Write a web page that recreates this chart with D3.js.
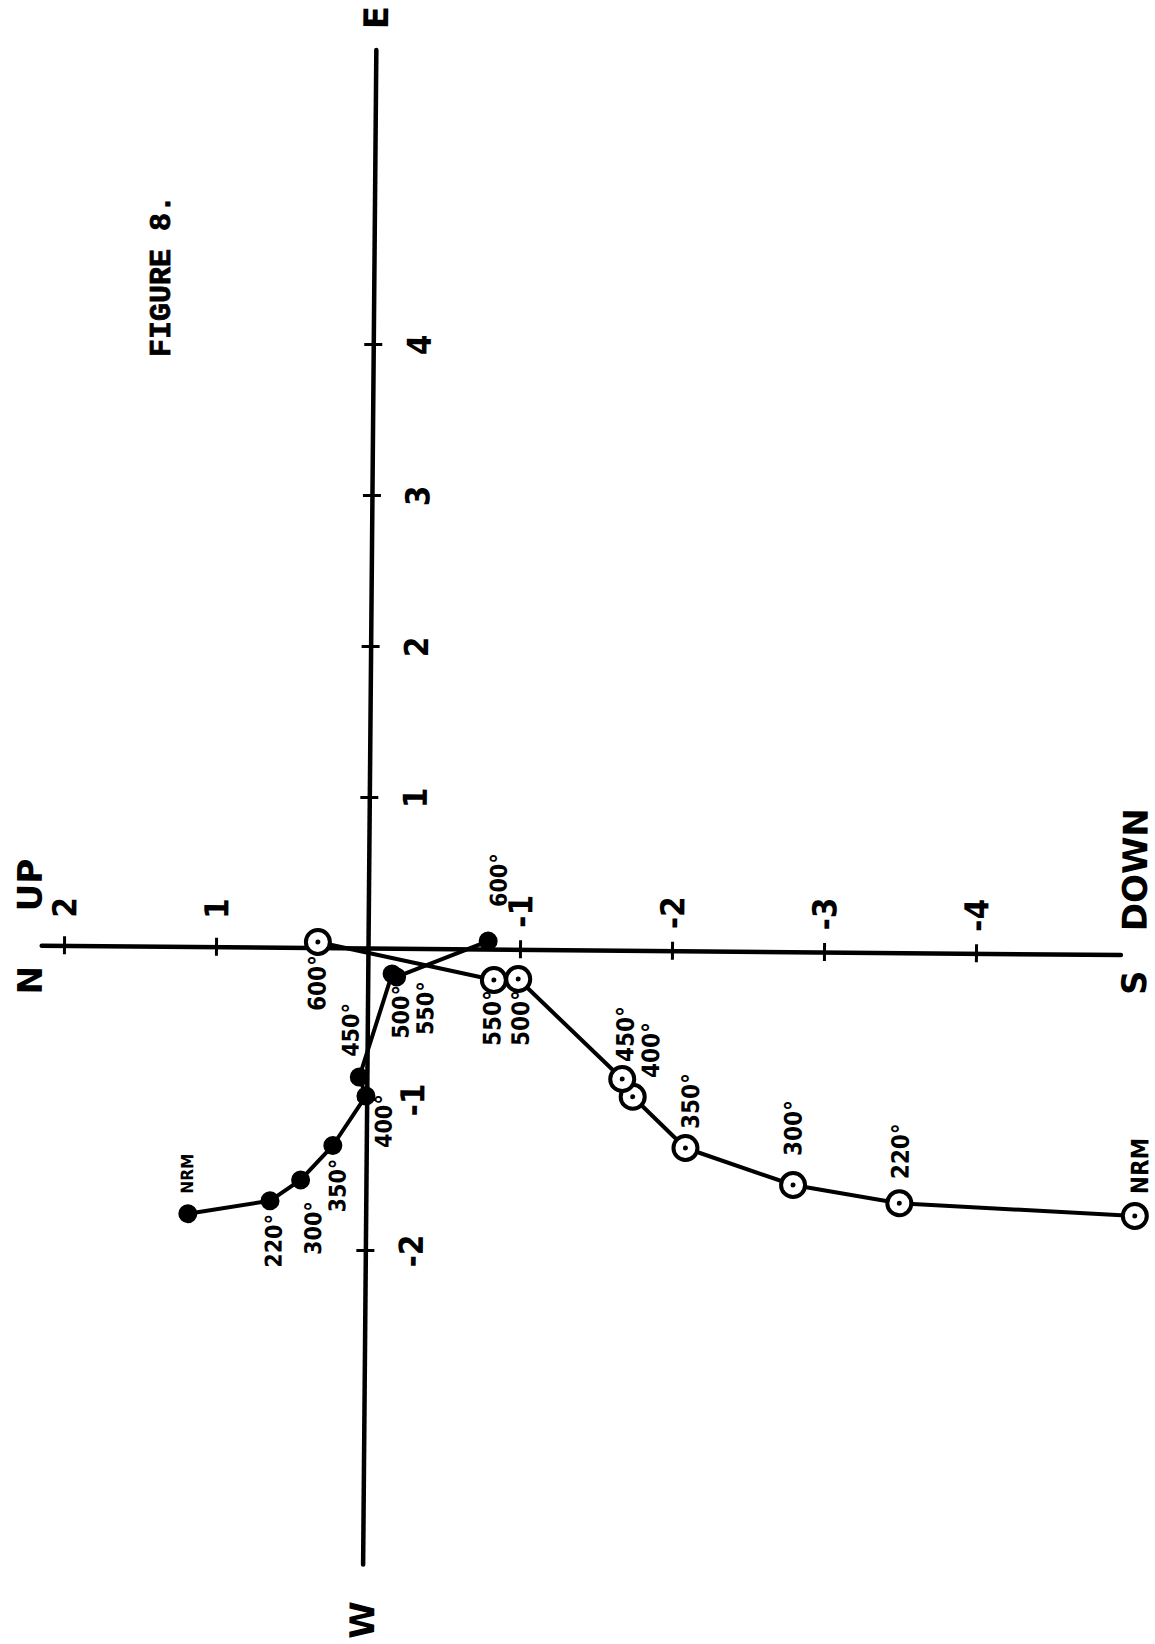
<!DOCTYPE html>
<html>
<head>
<meta charset="utf-8">
<script src="https://cdn.jsdelivr.net/npm/d3@7"></script>
<style>
  body { margin: 0; background: #fff; }
  svg { display: block; }
  text { font-weight: bold; fill: #000; }
</style>
</head>
<body>
<svg id="chart" width="1155" height="1644"></svg>
<script>
// demagnetisation steps
const steps = ["NRM", "220°", "300°", "350°", "400°", "450°", "500°", "550°", "600°"];
// horizontal projection (solid): N and E components
const horizN = [1.17, 0.63, 0.43, 0.22, 0.005, 0.05, -0.16, -0.19, -0.79];
const horizE = [-1.77, -1.68, -1.54, -1.31, -0.98, -0.855, -0.17, -0.19, 0.053];
// vertical projection (open): Up and E components
const vertUp = [-5.06, -3.51, -2.81, -2.10, -1.75, -1.68, -0.99, -0.83, 0.33];
const vertE = [-1.73, -1.66, -1.545, -1.306, -0.97, -0.853, -0.197, -0.205, 0.037];
// axis ticks
const nsTicks = [2, 1, -1, -2, -3, -4];
const ewTicks = [4, 3, 2, 1, -1, -2];
const nsExtent = [2.15, -4.95];
const ewExtent = [5.95, -4.08];

// label offsets (px) from each point, layout only
const solidLabelOffset = [[-1, -40], [4, 40], [13, 48], [5, 40], [18, 25], [-9, -47], [9, 38], [29, 31], [10, -61]];
const openLabelOffset = [[5, -50], [1, -52], [0, -57], [5, -47], [18, -47], [3, -45], [3, 39], [-1, 38], [0, 41]];

const ox = 368, oy = 948, unitX = 152, unitY = 151;

const svg = d3.select("#chart");

const x = d3.scaleLinear()
  .domain(nsExtent)
  .range([ox - nsExtent[0] * unitX, ox - nsExtent[1] * unitX]);
const y = d3.scaleLinear()
  .domain(ewExtent)
  .range([oy - ewExtent[0] * unitY, oy - ewExtent[1] * unitY]);

// scanned page is slightly rotated
const g = svg.append("g").attr("transform", `rotate(0.5, ${ox}, ${oy})`);

const sans = "'DejaVu Sans', sans-serif";
const narrow = "'DejaVu Sans Condensed', 'DejaVu Sans', sans-serif";

const rotText = (sel, px, py) => sel
  .attr("transform", `translate(${px},${py}) rotate(-90)`)
  .attr("text-anchor", "middle")
  .attr("dominant-baseline", "central");

// N-S / UP-DOWN axis
g.append("g")
  .attr("transform", `translate(0,${y(0)})`)
  .call(d3.axisTop(x).tickValues(nsTicks).tickSize(8).tickSizeOuter(0).tickFormat(d => String(d)))
  .call(a => a.select(".domain").attr("stroke-width", 4.5).attr("stroke-linecap", "round"))
  .call(a => a.selectAll(".tick line").attr("y1", -9).attr("y2", 9).attr("stroke-width", 3))
  .call(a => a.selectAll(".tick text")
    .attr("x", null).attr("y", null).attr("dy", null)
    .attr("transform", "translate(0,-38) rotate(-90)")
    .attr("text-anchor", "middle")
    .attr("dominant-baseline", "central")
    .style("font-size", "33px")
    .style("font-family", narrow)
    .style("font-weight", "bold"));

// E-W axis
g.append("g")
  .attr("transform", `translate(${x(0)},0)`)
  .call(d3.axisRight(y).tickValues(ewTicks).tickSize(8).tickSizeOuter(0).tickFormat(d => String(d)))
  .call(a => a.select(".domain").attr("stroke-width", 4.5).attr("stroke-linecap", "round"))
  .call(a => a.selectAll(".tick line").attr("x1", -9).attr("x2", 9).attr("stroke-width", 3))
  .call(a => a.selectAll(".tick text")
    .attr("x", null).attr("dy", null)
    .attr("transform", "translate(46,0) rotate(-90)")
    .attr("text-anchor", "middle")
    .attr("dominant-baseline", "central")
    .style("font-size", "33px")
    .style("font-family", narrow)
    .style("font-weight", "bold"));

// axis end letters
[
  ["UP", x(nsExtent[0]) - 12, y(0) - 60],
  ["N", x(nsExtent[0]) - 11, y(0) + 35],
  ["DOWN", x(nsExtent[1]) + 14, y(0) - 85],
  ["S", x(nsExtent[1]) + 14, y(0) + 28],
  ["E", x(0), y(ewExtent[0]) - 32],
  ["W", x(0), y(ewExtent[1]) + 56]
].forEach(([t, px, py]) => {
  g.append("text").text(t)
    .style("font-family", sans).style("font-size", "34px")
    .call(rotText, px, py);
});

const solid = steps.map((s, i) => ({ step: s, px: x(horizN[i]), py: y(horizE[i]), off: solidLabelOffset[i] }));
const open = steps.map((s, i) => ({ step: s, px: x(vertUp[i]), py: y(vertE[i]), off: openLabelOffset[i] }));

const line = d3.line().x(d => d.px).y(d => d.py);

[solid, open].forEach(series => {
  g.append("path").datum(series)
    .attr("d", line).attr("fill", "none").attr("stroke", "#000")
    .attr("stroke-width", 4).attr("stroke-linejoin", "round");
});

g.selectAll("circle.solid").data(solid).join("circle")
  .attr("class", "solid")
  .attr("cx", d => d.px).attr("cy", d => d.py).attr("r", 9.5)
  .attr("fill", "#000");

g.selectAll("circle.open").data(open).join("circle")
  .attr("class", "open")
  .attr("cx", d => d.px).attr("cy", d => d.py).attr("r", 12)
  .attr("fill", "#fff").attr("stroke", "#000").attr("stroke-width", 4);
g.selectAll("circle.centre").data(open).join("circle")
  .attr("class", "centre")
  .attr("cx", d => d.px).attr("cy", d => d.py).attr("r", 2.5)
  .attr("fill", "#000");

g.selectAll("text.solidLab").data(solid).join("text")
  .attr("class", "solidLab")
  .style("font-family", narrow)
  .style("font-size", d => d.step === "NRM" ? "17px" : "23px")
  .text(d => d.step)
  .each(function (d) { d3.select(this).call(rotText, d.px + d.off[0], d.py + d.off[1]); });

g.selectAll("text.openLab").data(open).join("text")
  .attr("class", "openLab")
  .style("font-family", narrow)
  .style("font-size", "24px")
  .text(d => d.step)
  .each(function (d) { d3.select(this).call(rotText, d.px + d.off[0], d.py + d.off[1]); });

// figure caption, typewritten
svg.append("text").text("FIGURE 8.")
  .style("font-family", "'Liberation Mono', 'DejaVu Sans Mono', monospace")
  .style("font-size", "30px")
  .attr("stroke", "#000").attr("stroke-width", 0.8)
  .call(rotText, 162, 276);
</script>
</body>
</html>
